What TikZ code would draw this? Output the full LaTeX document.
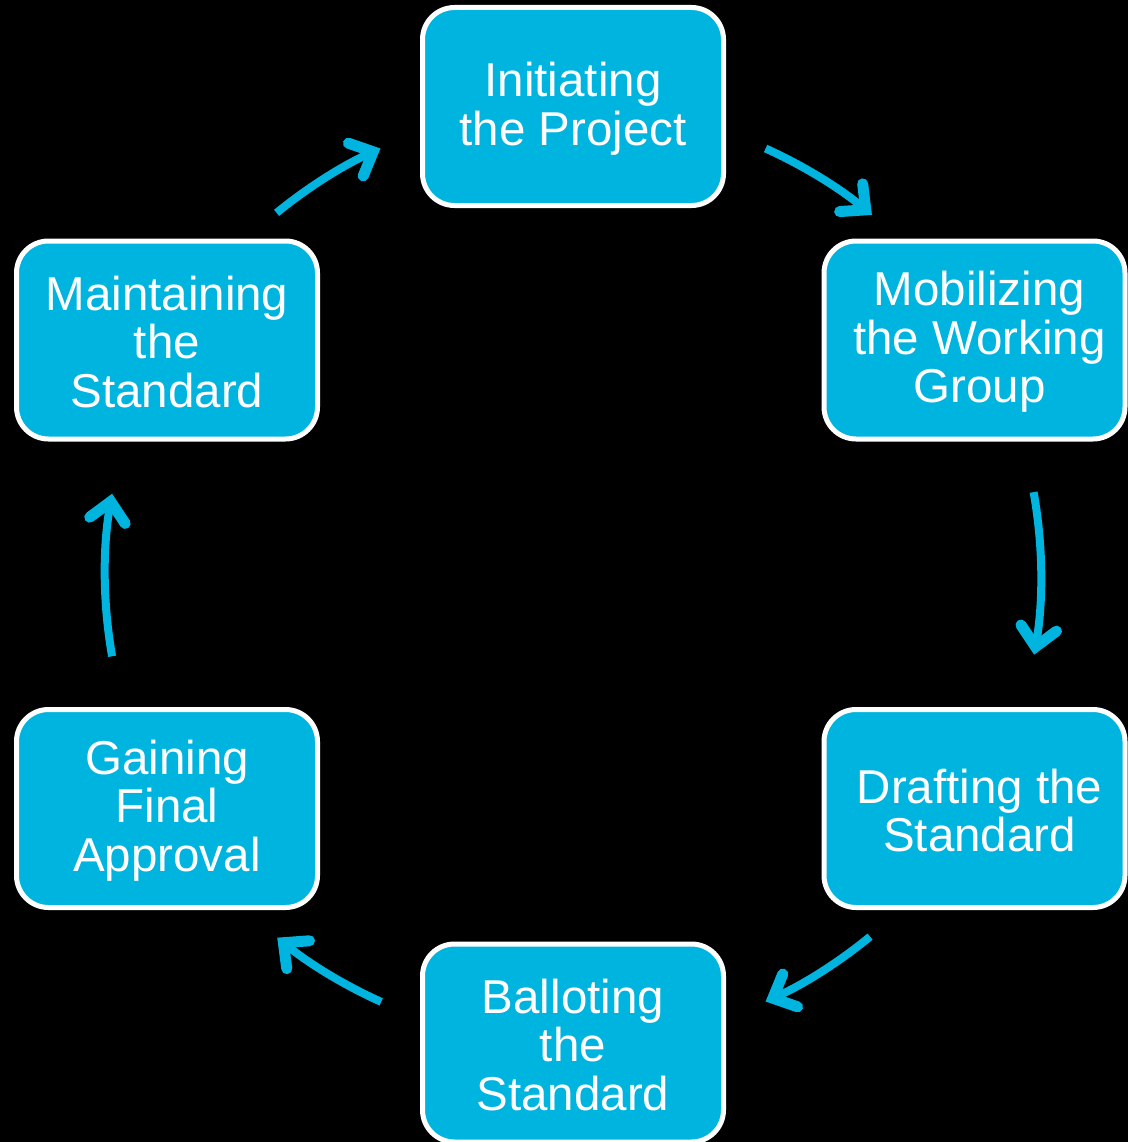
\documentclass[tikz,border=0pt]{standalone}
\usepackage{fontspec}
\setmainfont{Liberation Sans}
\usetikzlibrary{arrows.meta}
\definecolor{stdcyan}{HTML}{00B4E0}
\begin{document}
\begin{tikzpicture}[x=1pt,y=-1pt,
  stagebox/.style={draw=white, line width=5pt, fill=stdcyan, rounded corners=32pt,
    minimum width=301pt, minimum height=198pt, inner sep=0pt},
  stagetext/.style={text=white, align=center, inner sep=0pt,
    font=\fontsize{47.5}{48.5}\selectfont},
  cyc/.style={draw=stdcyan, line width=8pt,
    -{Straight Barb[length=19pt,width=36pt,line width=11pt,line cap=round,line join=miter]}}]
\fill[black] (0,0) rectangle (1128,1142);
\useasboundingbox (0,0) rectangle (1128,1142);
% stages
\node[stagebox] (init) at (573,106.5) {};
\node[stagebox] (mob)  at (974.5,340) {};
\node[stagebox] (draft) at (974.5,808.5) {};
\node[stagebox] (ballot) at (573,1043) {};
\node[stagebox] (gain) at (167,808.5) {};
\node[stagebox] (maint) at (167,340) {};
\node[stagetext] (initt) at ([yshift=-2pt]init.center) {Initiating\\the Project};
\node[stagetext] (mobt) at ([shift={(5pt,-2pt)}]mob.center) {Mobilizing\\the Working\\Group};
\node[stagetext] (draftt) at ([shift={(5pt,-2pt)}]draft.center) {Drafting the\\Standard};
\node[stagetext] (ballott) at ([yshift=-2pt]ballot.center) {Balloting\\the\\Standard};
\node[stagetext] (gaint) at ([yshift=-2pt]gain.center) {Gaining\\Final\\Approval};
\node[stagetext] (maintt) at ([yshift=-2pt]maint.center) {Maintaining\\the\\Standard};
% cycle arrows
\coordinate (c) at (573,575);
\coordinate (a1) at ([shift={(-65.7:468)}]c);
\coordinate (a2) at ([shift={(-10.2:468)}]c);
\coordinate (a3) at ([shift={(50.6:468)}]c);
\coordinate (a4) at ([shift={(114.2:468)}]c);
\coordinate (a5) at ([shift={(170:468)}]c);
\coordinate (a6) at ([shift={(230.7:468)}]c);
\draw[cyc] (a1) arc[start angle=-65.7, end angle=-50.3, radius=468];
\draw[cyc] (a2) arc[start angle=-10.2, end angle=9.8, radius=468];
\draw[cyc] (a3) arc[start angle=50.6, end angle=65.7, radius=468];
\draw[cyc] (a4) arc[start angle=114.2, end angle=129.2, radius=468];
\draw[cyc] (a5) arc[start angle=170, end angle=190, radius=468];
\draw[cyc] (a6) arc[start angle=230.7, end angle=245.7, radius=468];
\end{tikzpicture}
\end{document}
